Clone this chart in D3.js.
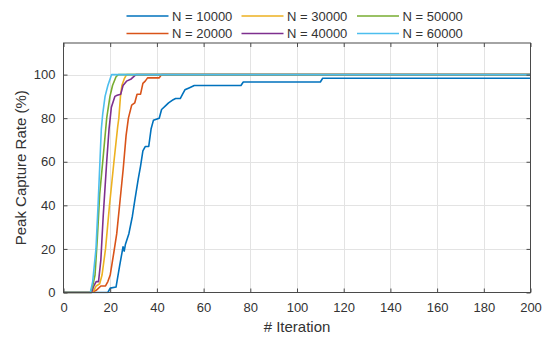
<!DOCTYPE html>
<html><head><meta charset="utf-8">
<script src="https://cdn.jsdelivr.net/npm/d3@7"></script>
<style>
html,body{margin:0;padding:0;background:#fff;}
svg{display:block;font-family:"Liberation Sans",Arial,Helvetica,sans-serif;}
</style></head>
<body><svg id="c" width="546" height="342"></svg>
<script>
// ---- data ----
const seriesNames = ["N = 10000","N = 20000","N = 30000","N = 40000","N = 50000","N = 60000"];
const seriesColors = ["#0072BD","#D95319","#EDB120","#7E2F8E","#77AC30","#4DBEEE"];

const it10000 = [0,19,20,22.5,24,25,25.5,26,26.5,28,29.5,30.5,32,33,34,35,36.5,37.5,38.5,41,42,44,45,47,48,50,51,52,54,56,76,77,110,111,200];
const v10000  = [0,0,2,2.5,12,18,21,19,22,27,35,42,52,58,65,67,67,75,79,80,84,86,87,88.5,89,89,91,93,94,95,95,96.6,96.6,98.3,98.3];

const it20000 = [0,12,14,16,18,19,20,21.5,22.8,24.2,25.6,26.8,27.8,29.2,30.5,31.5,33,34,35,36,41,42,200];
const v20000  = [0,0,1,3,3,5,8,18,27,42,57,72,80,86,87,91,91,96,97,98.5,98.5,100,100];

const it30000 = [0,12,13,14,15.5,16.5,18,19.7,21.6,23.2,23.7,24.4,25,26,27,200];
const v30000  = [0,0,1,3,4,8,20,40,60,76,80,90,95,98,100,100];

const it40000 = [0,12,13,14,15,16,17,18.5,19.5,20.5,22,23,24.5,25.5,27,29,31,200];
const v40000  = [0,0,3,5,5,15,35,60,75,85,90,90.5,91,95,97,98,100,100];

const it50000 = [0,11.5,12.5,13.5,14.5,15.5,16.8,18.5,19.9,21,22.5,23.5,200];
const v50000  = [0,0,3,8,25,45,60,80,90,95,99,100,100];

const it60000 = [0,11.5,12.5,13.9,14.8,15.6,16.2,16.8,17.8,19,20.6,200];
const v60000  = [0,0,5,20,40,60,75,82,90,95,100,100];

const xTicks = [0,20,40,60,80,100,120,140,160,180,200];
const yTicks = [0,20,40,60,80,100];
const xLabel = "# Iteration";
const yLabel = "Peak Capture Rate (%)";

const series = [
  {name:seriesNames[0], color:seriesColors[0], x:it10000, y:v10000},
  {name:seriesNames[1], color:seriesColors[1], x:it20000, y:v20000},
  {name:seriesNames[2], color:seriesColors[2], x:it30000, y:v30000},
  {name:seriesNames[3], color:seriesColors[3], x:it40000, y:v40000},
  {name:seriesNames[4], color:seriesColors[4], x:it50000, y:v50000},
  {name:seriesNames[5], color:seriesColors[5], x:it60000, y:v60000}
];

// ---- layout ----
const L = 63.5, R = 530.5, T = 43, B = 292.5;
const svg = d3.select("#c");
const x = d3.scaleLinear().domain([0,200]).range([L,R]);
const y = d3.scaleLinear().domain([0,114.5]).range([B,T]);

const axisColor = "#4a4a4a", textColor = "#333", gridColor = "#e3e3e3";

// grid
const g = svg.append("g");
g.selectAll(".vg").data(xTicks.slice(1,-1)).enter().append("line")
  .attr("x1",d=>Math.round(x(d))+0.5).attr("x2",d=>Math.round(x(d))+0.5)
  .attr("y1",T).attr("y2",B).attr("stroke",gridColor).attr("stroke-width",1);
g.selectAll(".hg").data(yTicks.slice(1)).enter().append("line")
  .attr("x1",L).attr("x2",R)
  .attr("y1",d=>Math.round(y(d))+0.5).attr("y2",d=>Math.round(y(d))+0.5)
  .attr("stroke",gridColor).attr("stroke-width",1);

// lines
const line = d3.line().x(d=>x(d[0])).y(d=>y(d[1]));
const clip = svg.append("clipPath").attr("id","pc").append("rect")
  .attr("x",L).attr("y",T-2).attr("width",R-L).attr("height",B-T+3);
svg.append("g").attr("clip-path","url(#pc)").selectAll("path").data(series).enter().append("path")
  .attr("d",s=>line(s.x.map((v,i)=>[v,s.y[i]])))
  .attr("fill","none").attr("stroke",s=>s.color).attr("stroke-width",1.6)
  .attr("stroke-linejoin","round");

// axes (box with inward ticks)
const ax = svg.append("g");
const xb = d3.axisBottom(x).tickValues(xTicks).tickSize(-4).tickPadding(10).tickFormat(d3.format("d"));
const xt = d3.axisTop(x).tickValues(xTicks).tickSize(-4).tickFormat("");
const yl = d3.axisLeft(y).tickValues(yTicks).tickSize(-4).tickPadding(8).tickFormat(d3.format("d"));
const yr = d3.axisRight(y).tickValues(yTicks).tickSize(-4).tickFormat("");
function style(sel){
  sel.select(".domain").remove();
  sel.selectAll(".tick line").attr("stroke",axisColor);
  sel.selectAll(".tick text").attr("fill",textColor).attr("font-size",13)
    .attr("font-family","Liberation Sans, Arial, sans-serif");
}
ax.append("g").attr("transform",`translate(0,${B})`).call(xb).call(style);
ax.append("g").attr("transform",`translate(0,${T})`).call(xt).call(style);
ax.append("g").attr("transform",`translate(${L},0)`).call(yl).call(style);
ax.append("g").attr("transform",`translate(${R},0)`).call(yr).call(style);
ax.append("rect").attr("x",L).attr("y",T).attr("width",R-L).attr("height",B-T)
  .attr("fill","none").attr("stroke",axisColor).attr("stroke-width",1);

// axis labels
svg.append("text").attr("x",(L+R)/2).attr("y",332).attr("text-anchor","middle")
  .attr("font-size",15).attr("fill",textColor).text(xLabel);
svg.append("text").attr("transform",`translate(26,${(T+B)/2}) rotate(-90)`)
  .attr("text-anchor","middle").attr("font-size",15).attr("fill",textColor).text(yLabel);

// legend: 3 columns, column-major
const colX = [126.5, 241.5, 357];
const rowY = [16, 33.5];
const lg = svg.append("g");
series.forEach((s,i)=>{
  const c = Math.floor(i/2), r = i%2;
  lg.append("line").attr("x1",colX[c]).attr("x2",colX[c]+42)
    .attr("y1",rowY[r]).attr("y2",rowY[r]).attr("stroke",s.color).attr("stroke-width",1.6);
  lg.append("text").attr("x",colX[c]+45.5).attr("y",rowY[r]).attr("dy","0.35em")
    .attr("font-size",13).attr("fill",textColor).text(s.name);
});
</script></body></html>
